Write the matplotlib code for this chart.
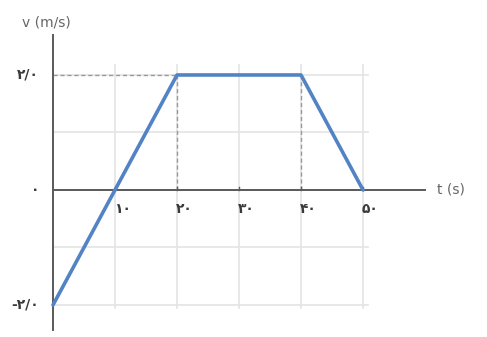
import matplotlib
matplotlib.use("Agg")
import matplotlib.pyplot as plt

# velocity-time data
t_values = [0, 10, 20, 40, 50]
v_values = [-2.0, 0.0, 2.0, 2.0, 0.0]
x_ticks = [10, 20, 30, 40, 50]
x_tick_labels = ["۱۰", "۲۰", "۳۰", "۴۰", "۵۰"]
y_ticks = [2.0, 0.0, -2.0]
y_tick_labels = ["۲/۰", "۰", "-۲/۰"]

fig = plt.figure(figsize=(4.87, 3.37), dpi=100)
ax = fig.add_axes([0, 0, 1, 1])
ax.set_xlim(-8.55, 70.0)
ax.set_ylim(-2.557, 3.304)
ax.axis("off")

grid_col = "#e4e4e4"
# light background grid
for gx in range(0, 51, 10):
    ax.plot([gx, gx], [-2.05, 2.17], color=grid_col, lw=1.2, zorder=1)
for gy in [-2, -1, 0, 1, 2]:
    ax.plot([0, 50.8], [gy, gy], color=grid_col, lw=1.2, zorder=1)

# axes lines
ax.plot([0, 60], [0, 0], color="#5a5a5a", lw=1.4, zorder=3)
ax.plot([0, 0], [-2.43, 2.70], color="#5a5a5a", lw=1.4, zorder=3)

# guide lines to the plateau
ax.plot([20, 20], [0, 2.0], color="#9a9a9a", lw=1, ls=(0, (3, 2)), zorder=2)
ax.plot([40, 40], [0, 2.0], color="#9a9a9a", lw=1, ls=(0, (3, 2)), zorder=2)
ax.plot([0, 20], [2.0, 2.0], color="#9a9a9a", lw=1, ls=(0, (3, 2)), zorder=2)

# velocity graph
ax.plot(t_values, v_values, color="#5283c4", lw=2.6, solid_capstyle="round",
        solid_joinstyle="round", zorder=4)

fam = ["DejaVu Sans"]
for xt, lab in zip(x_ticks, x_tick_labels):
    ax.plot([xt, xt], [0, 0.06], color="#5a5a5a", lw=1, zorder=3)
    ax.text(xt + 1.2, -0.33, lab, ha="center", va="center", fontsize=10,
            fontweight="bold", color="#3a3a3a", family=fam)
for yt, lab in zip(y_ticks, y_tick_labels):
    ax.text(-2.2, yt, lab, ha="right", va="center", fontsize=10,
            fontweight="bold", color="#3a3a3a", family=fam)

ax.text(-5.0, 2.92, "v (m/s)", ha="left", va="center", fontsize=10,
        color="#666666", family=fam)
ax.text(62.0, 0.0, "t (s)", ha="left", va="center", fontsize=10,
        color="#666666", family=fam)

fig.savefig("out.png", dpi=100)
